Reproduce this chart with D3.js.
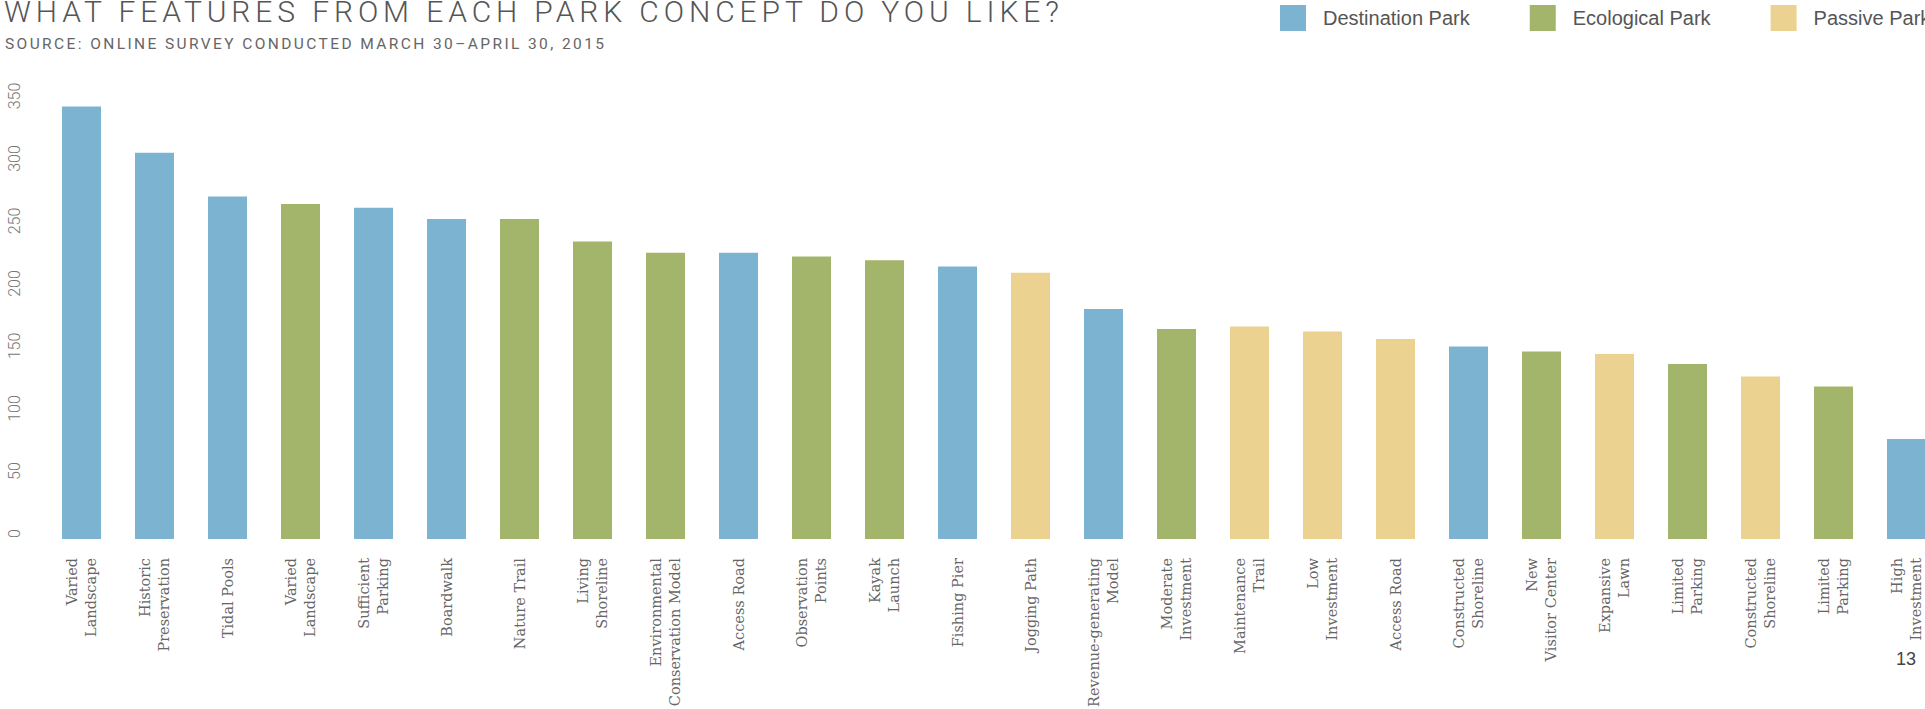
<!DOCTYPE html>
<html>
<head>
<meta charset="utf-8">
<script src="https://cdn.jsdelivr.net/npm/d3@7"></script>
<style>
  body { margin: 0; background: #fff; overflow: hidden; }
  svg { display: block; }
</style>
</head>
<body>
<div id="chart"></div>
<script>
// survey answers, in the order they are shown
var categories = [
  "Varied\nLandscape", "Historic\nPreservation", "Tidal Pools", "Varied\nLandscape",
  "Sufficient\nParking", "Boardwalk", "Nature Trail", "Living\nShoreline",
  "Environmental\nConservation Model", "Access Road", "Observation\nPoints", "Kayak\nLaunch",
  "Fishing Pier", "Jogging Path", "Revenue-generating\nModel", "Moderate\nInvestment",
  "Maintenance\nTrail", "Low\nInvestment", "Access Road", "Constructed\nShoreline",
  "New\nVisitor Center", "Expansive\nLawn", "Limited\nParking", "Constructed\nShoreline",
  "Limited\nParking", "High\nInvestment"
];
var concepts = [
  "Destination Park", "Destination Park", "Destination Park", "Ecological Park",
  "Destination Park", "Destination Park", "Ecological Park", "Ecological Park",
  "Ecological Park", "Destination Park", "Ecological Park", "Ecological Park",
  "Destination Park", "Passive Park", "Destination Park", "Ecological Park",
  "Passive Park", "Passive Park", "Passive Park", "Destination Park",
  "Ecological Park", "Passive Park", "Ecological Park", "Passive Park",
  "Ecological Park", "Destination Park"
];
var votes = [
  346, 309, 274, 268, 265, 256, 256, 238, 229, 229, 226, 223, 218,
  213, 184, 168, 170, 166, 160, 154, 150, 148, 140, 130, 122, 80
];
var yTicks = [0, 50, 100, 150, 200, 250, 300, 350];
var legendItems = ["Destination Park", "Ecological Park", "Passive Park"];
var conceptColors = ["#7bb3d1", "#a2b56a", "#ecd290"];

var width = 1925, height = 709;

var svg = d3.select("#chart").append("svg")
  .attr("width", width)
  .attr("height", height);

var x = d3.scaleBand()
  .domain(d3.range(categories.length))
  .range([45, 1943])
  .paddingInner(0.466)
  .paddingOuter(0.233);

var y = d3.scaleLinear()
  .domain([0, 350])
  .range([539, 101.5]);

var color = d3.scaleOrdinal()
  .domain(legendItems)
  .range(conceptColors);

// title block
svg.append("text")
  .attr("x", 4)
  .attr("y", 22)
  .attr("fill", "#555")
  .style("font", "300 30px Roboto")
  .style("letter-spacing", "4.9px")
  .text("WHAT FEATURES FROM EACH PARK CONCEPT DO YOU LIKE?");

svg.append("text")
  .attr("x", 5)
  .attr("y", 49)
  .attr("fill", "#666")
  .style("font", "400 15.5px Roboto")
  .style("letter-spacing", "2.4px")
  .text("SOURCE: ONLINE SURVEY CONDUCTED MARCH 30\u2013APRIL 30, 2015");

// legend
var lx = 1280;
legendItems.forEach(function(name) {
  var g = svg.append("g").attr("class", "legend");
  g.append("rect")
    .attr("x", lx)
    .attr("y", 5)
    .attr("width", 26)
    .attr("height", 26)
    .attr("fill", color(name));
  var t = g.append("text")
    .attr("x", lx + 43)
    .attr("y", 25)
    .attr("fill", "#555")
    .style("font", "20px 'Liberation Sans'")
    .text(name);
  lx = lx + 43 + t.node().getComputedTextLength() + 60;
});

// y axis, labels turned on their side
var yAxis = svg.append("g")
  .attr("class", "y-axis")
  .call(d3.axisLeft(y).tickValues(yTicks).tickSize(0));
yAxis.select(".domain").remove();
yAxis.selectAll("text")
  .attr("transform", "rotate(-90)")
  .attr("x", 6)
  .attr("y", 20)
  .attr("dy", 0)
  .attr("text-anchor", "middle")
  .attr("fill", "#777")
  .style("font", "300 16px Roboto");

// bars
svg.selectAll("rect.bar")
  .data(votes)
  .join("rect")
  .attr("class", "bar")
  .attr("x", function(d, i) { return x(i); })
  .attr("y", function(d) { return y(d); })
  .attr("width", x.bandwidth())
  .attr("height", function(d) { return y(0) - y(d); })
  .attr("fill", function(d, i) { return color(concepts[i]); });

// category labels
var lineH = 18.5;
var labels = svg.selectAll("g.cat")
  .data(categories)
  .join("g")
  .attr("class", "cat")
  .attr("transform", function(d, i) {
    return "translate(" + (x(i) + x.bandwidth() / 2) + ",558) rotate(-90)";
  });
labels.append("text")
  .attr("text-anchor", "end")
  .attr("fill", "#666")
  .style("font", "14.5px 'DejaVu Serif'")
  .each(function(d) {
    var lines = d.split("\n");
    var n = lines.length;
    var t = d3.select(this);
    lines.forEach(function(line, j) {
      t.append("tspan")
        .attr("x", 0)
        .attr("y", (j - (n - 1) / 2) * lineH + 5)
        .text(line);
    });
  });

// page number
svg.append("text")
  .attr("x", 1916)
  .attr("y", 665)
  .attr("text-anchor", "end")
  .attr("fill", "#444")
  .style("font", "18px 'Liberation Sans'")
  .text("13");
</script>
</body>
</html>
